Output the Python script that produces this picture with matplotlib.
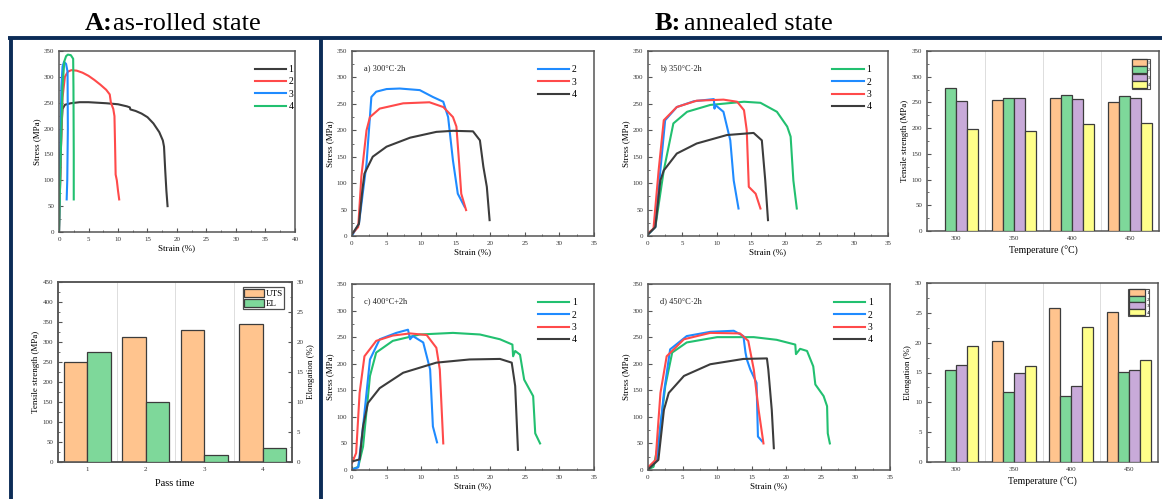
import numpy as np
import matplotlib
matplotlib.use("Agg")
import matplotlib.pyplot as plt
from matplotlib.ticker import AutoMinorLocator, MultipleLocator
from matplotlib.lines import Line2D

plt.rcParams['font.family'] = ['Liberation Serif', 'DejaVu Serif']

# ---------------- data ----------------
# A: as-rolled, stress-strain
A1_strain = [0, 0.2, 0.4, 0.6, 1.0, 2, 3.5, 5, 8, 10, 11.5, 12, 12.1, 13, 14, 15, 16, 17, 17.6, 17.8, 18.0, 18.2, 18.4]
A1_stress = [0, 100, 200, 238, 246, 249, 251, 251, 249, 247, 243, 241, 237, 234, 229, 222, 210, 193, 177, 165, 120, 80, 50]
A2_strain = [0, 0.3, 0.6, 1.0, 1.5, 2.1, 3, 4, 5, 6, 7, 8, 8.6, 8.8, 9.2, 9.4, 9.5, 9.6, 9.8, 10.0, 10.2]
A2_stress = [0, 150, 260, 300, 310, 313, 312, 308, 302, 294, 285, 275, 266, 250, 238, 224, 170, 111, 100, 80, 63]
A3_strain = [0, 0.2, 0.4, 0.6, 0.85, 1.2, 1.45, 1.5, 1.4, 1.3]
A3_stress = [0, 150, 280, 320, 329, 325, 310, 200, 100, 63]
A4_strain = [0, 0.3, 0.6, 0.9, 1.2, 1.5, 2.0, 2.4, 2.45, 2.5, 2.5]
A4_stress = [0, 150, 280, 330, 340, 343, 342, 335, 280, 150, 63]

# A: bars
pass_time = ["1", "2", "3", "4"]
uts_rolled = [250, 313, 329, 344]
el_rolled = [18.3, 10.0, 1.2, 2.3]

# B a) 300C
a2_strain = [0, 0.15, 1.0, 2.1, 2.8, 3.5, 5, 6.9, 9.8, 11.7, 13.2, 13.9, 14.6, 15.3, 16.3]
a2_stress = [0, 4, 23, 137, 263, 273, 278, 279, 276, 263, 254, 225, 143, 80, 55]
a3_strain = [0, 0.9, 1.35, 2.1, 2.6, 4, 7.4, 11.2, 13.2, 14.6, 15.1, 15.5, 15.8, 16.5]
a3_stress = [4, 17, 112, 200, 225, 241, 251, 253, 244, 225, 207, 137, 80, 49]
a4_strain = [0, 1.0, 1.5, 1.8, 3, 5, 8.4, 12.2, 14.6, 17.5, 18.5, 19.0, 19.5, 19.9]
a4_stress = [3, 23, 87, 118, 150, 169, 186, 197, 199, 198, 181, 131, 93, 30]

# B b) 350C
b1_strain = [0, 1.07, 2.3, 3.7, 5.7, 9.1, 14, 16.4, 18.8, 20.3, 20.8, 21.2, 21.7]
b1_stress = [3, 17, 124, 213, 235, 248, 254, 252, 235, 207, 188, 105, 52]
b2_strain = [0, 1.07, 1.8, 2.5, 4.2, 6.7, 9.6, 9.7, 9.8, 11, 12, 12.5, 13.2]
b2_stress = [3, 17, 124, 219, 244, 255, 259, 241, 248, 235, 181, 105, 52]
b3_strain = [0, 0.8, 1.55, 2.3, 4.2, 7.1, 11, 13, 14, 14.4, 14.7, 15.7, 16.4]
b3_stress = [5, 14, 124, 219, 244, 256, 258, 254, 238, 200, 93, 80, 52]
b4_strain = [0, 1.07, 1.8, 2.3, 4.2, 7.1, 11.5, 15.4, 16.6, 17.1, 17.5]
b4_stress = [3, 17, 105, 124, 156, 175, 191, 195, 181, 105, 30]

# B c) 400C
c1_strain = [0, 0.9, 1.6, 2.6, 3.5, 5.9, 9.8, 14.6, 18.5, 21.4, 23.2, 23.3, 23.6, 24.3, 24.9, 26.2, 26.5, 27.2]
c1_stress = [1, 6, 44, 177, 221, 243, 255, 258, 255, 246, 236, 214, 224, 217, 170, 139, 69, 50]
c2_strain = [0, 0.9, 1.6, 2.6, 4, 6.4, 8.1, 8.4, 8.8, 10.3, 11.3, 11.7, 12.3]
c2_stress = [1, 5, 82, 208, 246, 258, 264, 246, 252, 240, 189, 82, 52]
c3_strain = [0, 0.6, 1.1, 1.8, 3.5, 5.9, 8.4, 10.8, 12.2, 12.7, 13.2]
c3_stress = [13, 32, 145, 214, 243, 253, 257, 254, 230, 189, 50]
c4_strain = [0, 1.1, 1.6, 2.3, 4, 7.4, 12.2, 17, 21.4, 23.1, 23.6, 24.0]
c4_stress = [16, 20, 82, 126, 154, 183, 202, 208, 209, 202, 158, 38]

# B d) 450C
d1_strain = [0, 0.8, 1.5, 2.5, 3.5, 5.6, 10, 15.3, 18.6, 21.3, 21.4, 22, 23, 23.9, 24.2, 25.4, 25.9, 26.0, 26.3]
d1_stress = [1, 6, 50, 158, 221, 240, 250, 250, 245, 236, 218, 228, 224, 195, 161, 139, 120, 69, 50]
d2_strain = [0, 1.3, 2.3, 3.2, 5.6, 9, 12.4, 13.8, 14.1, 14.3, 14.8, 15.7, 15.9, 16.5]
d2_stress = [3, 19, 145, 227, 252, 260, 262, 252, 221, 208, 189, 164, 63, 54]
d3_strain = [0, 1.1, 1.8, 2.7, 5.2, 9, 13.3, 14.5, 15.3, 16.0, 16.7]
d3_stress = [5, 19, 145, 214, 246, 258, 257, 243, 189, 113, 50]
d4_strain = [0, 1.5, 2.3, 3, 5.2, 9, 13.8, 17.2, 17.4, 17.9, 18.2]
d4_stress = [1, 19, 113, 145, 177, 199, 209, 210, 189, 113, 41]

# B bars
temperatures = ["300", "350", "400", "450"]
sample_labels = ["1", "2", "3", "4"]
ts_s1 = [0, 255, 258, 251]
ts_s2 = [279, 259, 264, 262]
ts_s3 = [253, 258, 257, 258]
ts_s4 = [198, 195, 209, 210]
el_s1 = [0, 20.3, 25.8, 25.2]
el_s2 = [15.5, 11.7, 11.1, 15.1]
el_s3 = [16.3, 14.9, 12.8, 15.4]
el_s4 = [19.5, 16.1, 22.7, 17.1]

# ---------------- style ----------------
W, H = 1162, 499
C_GRAY = '#3c3c3c'
C_RED = '#ff4a4a'
C_BLUE = '#1f8bff'
C_GREEN = '#22c070'
BAR_ORANGE = '#ffc48e'
BAR_GREEN = '#7ed89a'
BAR_PURPLE = '#c8aad9'
BAR_YELLOW = '#ffff8a'
NAVY = '#0c2c57'
TICK_FS = 5
LABEL_FS = 6.5

fig = plt.figure(figsize=(W / 100, H / 100), dpi=100)


def px_axes(x0, x1, ytop, ybot):
    return fig.add_axes([x0 / W, 1 - ybot / H, (x1 - x0) / W, (ybot - ytop) / H])


def style(ax, right_ticks=False):
    for s in ax.spines.values():
        s.set_color('#555555')
        s.set_linewidth(1.1)
    ax.tick_params(which='both', direction='in', labelsize=TICK_FS, colors='#555555',
                   labelcolor='#333333', top=False, right=right_ticks)
    ax.tick_params(which='major', length=3, width=0.8)
    ax.tick_params(which='minor', length=1.5, width=0.6)


def curve_axes(ax, xmax, curves, labels, colors, title=None, legend_loc=(0.70, 0.96)):
    handles = []
    for (xs, ys), lab, col in zip(curves, labels, colors):
        h, = ax.plot(xs, ys, color=col, lw=1.5, label=lab)
        handles.append(h)
    ax.set_xlim(0, xmax)
    ax.set_ylim(0, 350)
    ax.xaxis.set_major_locator(MultipleLocator(5))
    ax.yaxis.set_major_locator(MultipleLocator(50))
    ax.xaxis.set_minor_locator(AutoMinorLocator(2))
    ax.yaxis.set_minor_locator(AutoMinorLocator(2))
    ax.set_xlabel('Strain (%)', fontsize=LABEL_FS, labelpad=2)
    ax.set_ylabel('Stress (MPa)', fontsize=LABEL_FS, labelpad=2)
    style(ax)
    if title:
        ax.text(0.05, 0.93, title, transform=ax.transAxes, fontsize=6, va='top', ha='left', color='#222222')
    ax.legend(handles=handles, loc='upper left', bbox_to_anchor=legend_loc, frameon=False,
              fontsize=7, handlelength=3.2, handletextpad=0.3, labelspacing=0.35, borderpad=0.2)


# A top
ax = px_axes(59, 295, 51, 232)
curve_axes(ax, 40, [(A1_strain, A1_stress), (A2_strain, A2_stress), (A3_strain, A3_stress), (A4_strain, A4_stress)],
           ['1', '2', '3', '4'], [C_GRAY, C_RED, C_BLUE, C_GREEN], legend_loc=(0.80, 0.96))

# A bottom bars
ax = px_axes(58, 292, 282, 462)
x = np.arange(1, len(pass_time) + 1)
ax2 = ax.twinx()
b1 = ax.bar(x - 0.2, uts_rolled, width=0.4, color=BAR_ORANGE, edgecolor=C_GRAY, lw=0.9, label='UTS', zorder=3)
b2 = ax2.bar(x + 0.2, el_rolled, width=0.4, color=BAR_GREEN, edgecolor=C_GRAY, lw=0.9, label='EL', zorder=3)
for xv in x[:-1] + 0.5:
    ax.axvline(xv, color='#dddddd', lw=0.7, zorder=0)
ax.set_xlim(0.5, 4.5)
ax.set_ylim(0, 450)
ax2.set_ylim(0, 30)
ax.set_xticks(x)
ax.set_xticklabels(pass_time)
ax.yaxis.set_major_locator(MultipleLocator(50))
ax.yaxis.set_minor_locator(AutoMinorLocator(2))
ax2.yaxis.set_major_locator(MultipleLocator(5))
ax2.yaxis.set_minor_locator(AutoMinorLocator(2))
style(ax)
style(ax2, right_ticks=True)
ax2.tick_params(which='both', left=False)
ax.set_ylabel('Tensile strength (MPa)', fontsize=LABEL_FS, labelpad=2)
ax2.set_ylabel('Elongation (%)', fontsize=LABEL_FS, labelpad=2)
ax.set_xlabel('Pass time', fontsize=7.5, labelpad=5)
leg = ax2.legend(handles=[b1, b2], loc='upper right', bbox_to_anchor=(0.975, 0.98), fontsize=6.5,
                 frameon=True, fancybox=False, edgecolor='#222222', handlelength=2.2, handleheight=1.1,
                 handletextpad=0.2, labelspacing=0.05, borderpad=0.15, borderaxespad=0.2)
leg.get_frame().set_linewidth(0.9)

# B line panels
curve_axes(px_axes(352, 594, 51, 236), 35,
           [(a2_strain, a2_stress), (a3_strain, a3_stress), (a4_strain, a4_stress)],
           ['2', '3', '4'], [C_BLUE, C_RED, C_GRAY], title='a) 300°C·2h', legend_loc=(0.74, 0.96))
curve_axes(px_axes(648, 888, 51, 236), 35,
           [(b1_strain, b1_stress), (b2_strain, b2_stress), (b3_strain, b3_stress), (b4_strain, b4_stress)],
           ['1', '2', '3', '4'], [C_GREEN, C_BLUE, C_RED, C_GRAY], title='b) 350°C·2h', legend_loc=(0.74, 0.96))
curve_axes(px_axes(352, 594, 284, 470), 35,
           [(c1_strain, c1_stress), (c2_strain, c2_stress), (c3_strain, c3_stress), (c4_strain, c4_stress)],
           ['1', '2', '3', '4'], [C_GREEN, C_BLUE, C_RED, C_GRAY], title='c) 400°C+2h', legend_loc=(0.74, 0.96))
curve_axes(px_axes(648, 890, 284, 470), 35,
           [(d1_strain, d1_stress), (d2_strain, d2_stress), (d3_strain, d3_stress), (d4_strain, d4_stress)],
           ['1', '2', '3', '4'], [C_GREEN, C_BLUE, C_RED, C_GRAY], title='d) 450°C·2h', legend_loc=(0.74, 0.96))


def group_bars(ax, series, ymax, ystep, ylabel):
    xg = np.arange(1, len(temperatures) + 1)
    w = 0.19
    cols = [BAR_ORANGE, BAR_GREEN, BAR_PURPLE, BAR_YELLOW]
    hs = []
    for i, (vals, col, lab) in enumerate(zip(series, cols, sample_labels)):
        h = ax.bar(xg + (i - 1.5) * w, vals, width=w, color=col, edgecolor=C_GRAY, lw=0.9, label=lab, zorder=3)
        hs.append(h)
    for xv in xg[:-1] + 0.5:
        ax.axvline(xv, color='#dddddd', lw=0.7, zorder=0)
    ax.set_xlim(0.5, 4.5)
    ax.set_ylim(0, ymax)
    ax.set_xticks(xg)
    ax.set_xticklabels(temperatures)
    ax.yaxis.set_major_locator(MultipleLocator(ystep))
    ax.yaxis.set_minor_locator(AutoMinorLocator(2))
    style(ax)
    ax.tick_params(axis='x', which='minor', bottom=False)
    ax.set_ylabel(ylabel, fontsize=LABEL_FS, labelpad=2)
    ax.set_xlabel('Temperature (°C)', fontsize=7, labelpad=4)
    return hs


ax = px_axes(927, 1159, 51, 231)
hs = group_bars(ax, [ts_s1, ts_s2, ts_s3, ts_s4], 350, 50, 'Tensile strength (MPa)')
leg = ax.legend(handles=hs, loc='upper right', bbox_to_anchor=(0.965, 0.96), fontsize=3, frameon=True,
                fancybox=False, edgecolor='#222222', handlelength=3.6, handleheight=2.2,
                handletextpad=0.2, labelspacing=0.1, borderpad=0.1, borderaxespad=0.1)
leg.get_frame().set_linewidth(0.8)

ax = px_axes(927, 1158, 283, 462)
hs = group_bars(ax, [el_s1, el_s2, el_s3, el_s4], 30, 5, 'Elongation (%)')
leg = ax.legend(handles=hs, loc='upper right', bbox_to_anchor=(0.965, 0.97), fontsize=3.5, frameon=True,
                fancybox=False, edgecolor='#222222', handlelength=3.4, handleheight=1.6,
                handletextpad=0.2, labelspacing=0.05, borderpad=0.1, borderaxespad=0.1)
leg.get_frame().set_linewidth(0.8)

# ---------------- frame & titles ----------------
def fline(xs, ys, lw=2.8):
    fig.add_artist(Line2D([v / W for v in xs], [1 - v / H for v in ys], color=NAVY, lw=lw,
                          transform=fig.transFigure, solid_capstyle='butt'))


fline([8, 1162], [38, 38])
fline([11, 11], [38, 499])
fline([321, 321], [38, 499])

fig.text(85 / W, 1 - 30 / H, 'A:', fontsize=19, fontweight='bold', ha='left', va='baseline')
fig.text(113 / W, 1 - 30 / H, 'as-rolled state', fontsize=19, ha='left', va='baseline')
fig.text(655 / W, 1 - 30 / H, 'B:', fontsize=19, fontweight='bold', ha='left', va='baseline')
fig.text(684 / W, 1 - 30 / H, 'annealed state', fontsize=19, ha='left', va='baseline')

fig.savefig('out.png', dpi=100)
